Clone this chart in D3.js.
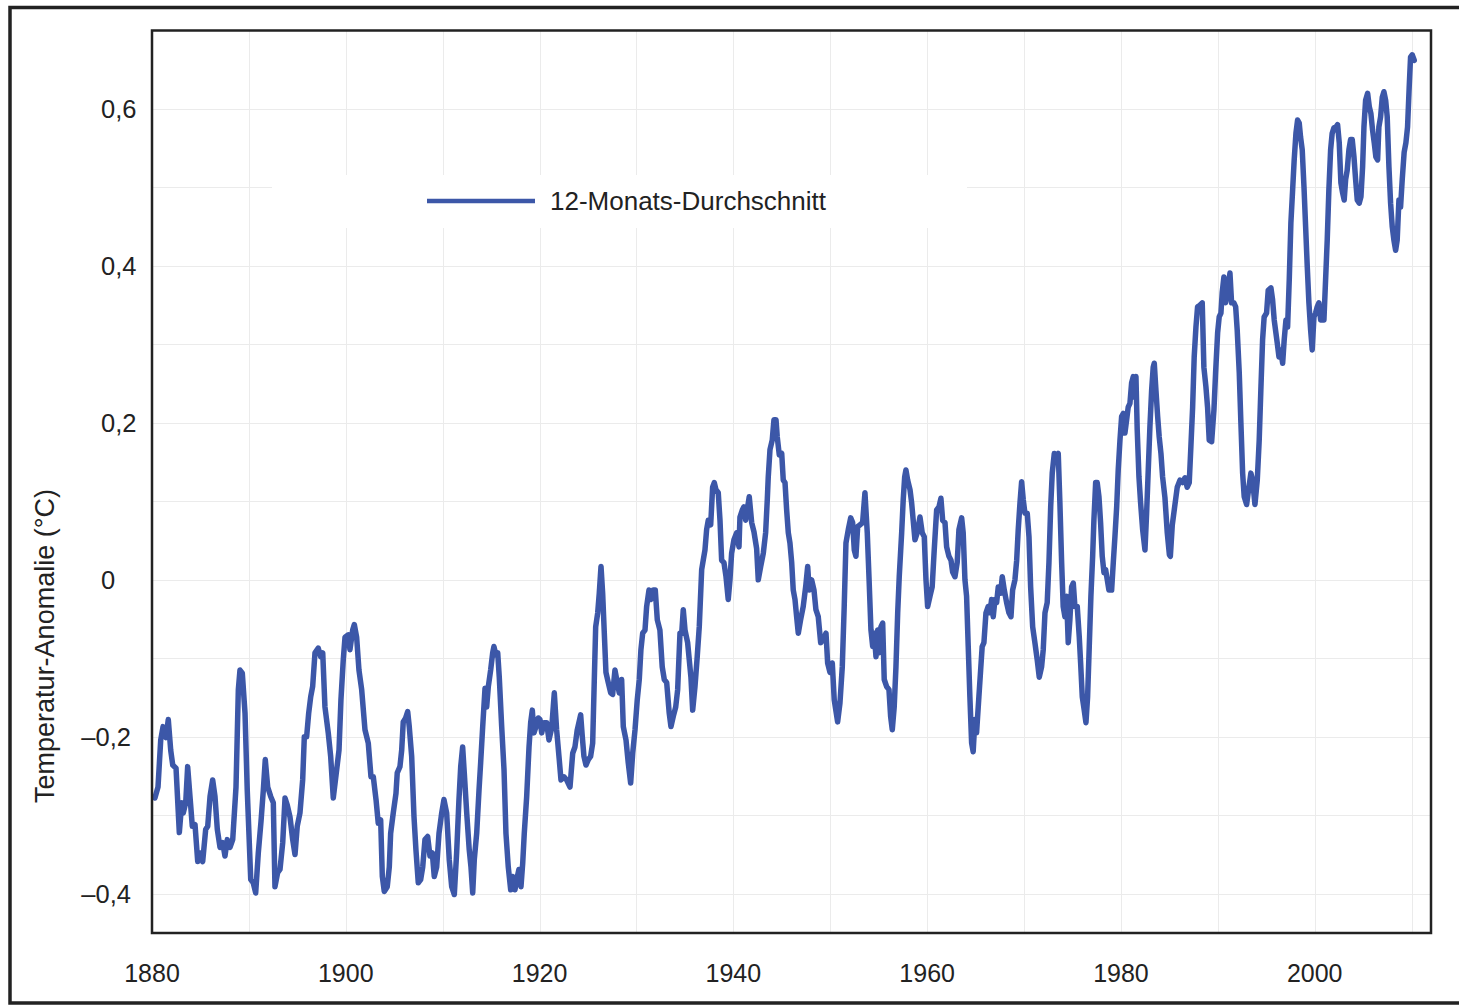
<!DOCTYPE html>
<html>
<head>
<meta charset="utf-8">
<script src="https://cdn.jsdelivr.net/npm/d3@7"></script>
<style>
  body { margin: 0; background: #fff; }
  svg { display: block; }
  text { font-family: 'Liberation Sans', Arial, Helvetica, sans-serif; fill: #222; }
</style>
</head>
<body>
<svg id="chart"></svg>
<script>
'use strict';

let WIDTH = 1459;
let HEIGHT = 1005;
let PLOT = { left: 152, right: 1431, top: 30.5, bottom: 933 };

let COLOR = {
    LINE: '#3C57A8',
    GRID: '#ebebeb',
    FRAME: '#222'
};

// 12-month running mean (year, anomaly in °C)
let YEARS = [
    1880.3, 1880.62, 1880.9, 1881.14, 1881.44, 1881.68, 1881.93, 1882.14, 1882.48, 1882.82,
    1883.07, 1883.23, 1883.48, 1883.68, 1883.92, 1884.16, 1884.44, 1884.72, 1884.95, 1885.23,
    1885.54, 1885.75, 1885.99, 1886.26, 1886.5, 1886.74, 1887.02, 1887.3, 1887.53, 1887.77,
    1888.05, 1888.33, 1888.67, 1888.91, 1889.08, 1889.32, 1889.6, 1889.83, 1890.19, 1890.45,
    1890.7, 1890.97, 1891.25, 1891.49, 1891.69, 1891.94, 1892.25, 1892.52, 1892.69, 1892.97,
    1893.21, 1893.49, 1893.73, 1893.96, 1894.24, 1894.52, 1894.76, 1894.99, 1895.27, 1895.55,
    1895.72, 1895.96, 1896.17, 1896.38, 1896.58, 1896.82, 1897.16, 1897.41, 1897.62, 1897.85,
    1898.19, 1898.44, 1898.71, 1899.06, 1899.3, 1899.5, 1899.74, 1899.92, 1900.26, 1900.43,
    1900.71, 1900.88, 1901.12, 1901.36, 1901.64, 1901.98, 1902.32, 1902.6, 1902.84, 1903.12,
    1903.35, 1903.6, 1903.77, 1903.97, 1904.28, 1904.49, 1904.63, 1904.9, 1905.18, 1905.31,
    1905.59, 1905.77, 1905.93, 1906.18, 1906.39, 1906.55, 1906.8, 1907.04, 1907.24, 1907.48,
    1907.73, 1907.94, 1908.17, 1908.45, 1908.69, 1908.93, 1909.13, 1909.38, 1909.62, 1909.9,
    1910.13, 1910.41, 1910.68, 1910.93, 1911.2, 1911.44, 1911.68, 1911.86, 1912.06, 1912.23,
    1912.48, 1912.74, 1912.92, 1913.1, 1913.26, 1913.51, 1913.75, 1913.92, 1914.13, 1914.37,
    1914.54, 1914.71, 1914.95, 1915.16, 1915.29, 1915.5, 1915.68, 1915.84, 1916.09, 1916.33,
    1916.53, 1916.77, 1917.02, 1917.22, 1917.46, 1917.64, 1917.87, 1918.08, 1918.26, 1918.42,
    1918.67, 1918.91, 1919.08, 1919.25, 1919.42, 1919.63, 1919.87, 1920.04, 1920.22, 1920.45,
    1920.73, 1920.97, 1921.25, 1921.52, 1921.76, 1922.03, 1922.21, 1922.52, 1922.8, 1923.14,
    1923.42, 1923.65, 1923.89, 1924.24, 1924.41, 1924.58, 1924.79, 1925.03, 1925.27, 1925.48,
    1925.64, 1925.79, 1926.0, 1926.16, 1926.34, 1926.51, 1926.68, 1926.85, 1927.09, 1927.34,
    1927.54, 1927.78, 1928.02, 1928.22, 1928.47, 1928.64, 1928.92, 1929.15, 1929.4, 1929.61,
    1929.85, 1930.08, 1930.29, 1930.46, 1930.64, 1930.88, 1931.05, 1931.29, 1931.5, 1931.73,
    1931.94, 1932.15, 1932.42, 1932.66, 1932.87, 1933.12, 1933.38, 1933.56, 1933.8, 1934.05,
    1934.25, 1934.49, 1934.67, 1934.83, 1935.01, 1935.28, 1935.45, 1935.62, 1935.8, 1936.04,
    1936.27, 1936.48, 1936.73, 1936.89, 1937.07, 1937.24, 1937.41, 1937.66, 1937.86, 1938.03,
    1938.2, 1938.44, 1938.62, 1938.79, 1939.03, 1939.24, 1939.47, 1939.65, 1939.82, 1940.06,
    1940.34, 1940.58, 1940.68, 1940.92, 1941.09, 1941.27, 1941.43, 1941.64, 1941.89, 1942.13,
    1942.4, 1942.57, 1942.82, 1943.09, 1943.33, 1943.5, 1943.6, 1943.78, 1944.01, 1944.19,
    1944.4, 1944.53, 1944.74, 1944.99, 1945.15, 1945.33, 1945.5, 1945.67, 1945.84, 1946.02,
    1946.18, 1946.36, 1946.53, 1946.7, 1946.94, 1947.21, 1947.46, 1947.67, 1947.83, 1948.08,
    1948.32, 1948.52, 1948.76, 1949.01, 1949.28, 1949.56, 1949.73, 1949.97, 1950.21, 1950.41,
    1950.76, 1951.0, 1951.24, 1951.44, 1951.62, 1951.86, 1952.11, 1952.31, 1952.48, 1952.65,
    1952.83, 1953.06, 1953.34, 1953.58, 1953.82, 1954.02, 1954.2, 1954.38, 1954.54, 1954.72,
    1954.89, 1955.06, 1955.23, 1955.41, 1955.57, 1955.82, 1956.06, 1956.23, 1956.4, 1956.6,
    1956.78, 1956.96, 1957.12, 1957.37, 1957.53, 1957.68, 1957.81, 1957.99, 1958.23, 1958.4,
    1958.56, 1958.74, 1958.98, 1959.26, 1959.49, 1959.7, 1959.88, 1960.05, 1960.29, 1960.52,
    1960.73, 1960.98, 1961.22, 1961.42, 1961.6, 1961.84, 1962.01, 1962.25, 1962.46, 1962.63,
    1962.87, 1963.1, 1963.28, 1963.56, 1963.72, 1963.9, 1964.07, 1964.24, 1964.41, 1964.59,
    1964.75, 1964.93, 1965.1, 1965.34, 1965.52, 1965.68, 1965.86, 1966.07, 1966.3, 1966.48,
    1966.65, 1966.82, 1967.0, 1967.17, 1967.34, 1967.59, 1967.75, 1967.96, 1968.2, 1968.44,
    1968.65, 1968.82, 1969.06, 1969.24, 1969.4, 1969.58, 1969.75, 1969.92, 1970.09, 1970.33,
    1970.51, 1970.68, 1970.89, 1971.12, 1971.36, 1971.57, 1971.81, 1971.98, 1972.16, 1972.39,
    1972.57, 1972.75, 1972.91, 1973.12, 1973.36, 1973.53, 1973.7, 1973.88, 1974.04, 1974.22,
    1974.39, 1974.56, 1974.73, 1974.91, 1975.08, 1975.25, 1975.49, 1975.7, 1975.84, 1976.01,
    1976.21, 1976.39, 1976.56, 1976.73, 1976.9, 1977.08, 1977.21, 1977.39, 1977.55, 1977.73,
    1977.9, 1978.07, 1978.25, 1978.42, 1978.59, 1978.76, 1979.04, 1979.21, 1979.38, 1979.56,
    1979.72, 1979.9, 1980.07, 1980.24, 1980.41, 1980.59, 1980.75, 1980.93, 1981.1, 1981.27,
    1981.44, 1981.55, 1981.68, 1981.86, 1982.03, 1982.24, 1982.48, 1982.65, 1982.82, 1982.99,
    1983.17, 1983.33, 1983.44, 1983.61, 1983.79, 1983.95, 1984.13, 1984.3, 1984.54, 1984.78,
    1985.0, 1985.1, 1985.3, 1985.81, 1986.09, 1986.37, 1986.61, 1986.84, 1987.05, 1987.22,
    1987.4, 1987.56, 1987.74, 1987.91, 1988.15, 1988.39, 1988.56, 1988.77, 1988.94, 1989.11,
    1989.36, 1989.6, 1989.77, 1989.98, 1990.14, 1990.32, 1990.45, 1990.63, 1990.8, 1990.91,
    1991.07, 1991.25, 1991.42, 1991.66, 1991.84, 1992.0, 1992.21, 1992.38, 1992.56, 1992.72,
    1992.97, 1993.21, 1993.41, 1993.59, 1993.83, 1994.07, 1994.27, 1994.44, 1994.62, 1994.78,
    1995.03, 1995.2, 1995.48, 1995.65, 1995.82, 1995.99, 1996.13, 1996.31, 1996.48, 1996.69,
    1996.85, 1997.03, 1997.2, 1997.37, 1997.54, 1997.72, 1997.88, 1998.06, 1998.23, 1998.4,
    1998.54, 1998.71, 1998.89, 1999.06, 1999.23, 1999.4, 1999.58, 1999.74, 1999.92, 2000.09,
    2000.26, 2000.43, 2000.61, 2000.81, 2000.95, 2001.12, 2001.29, 2001.46, 2001.64, 2001.8,
    2001.98, 2002.19, 2002.36, 2002.53, 2002.7, 2002.88, 2003.04, 2003.19, 2003.35, 2003.53,
    2003.7, 2003.87, 2004.05, 2004.22, 2004.39, 2004.59, 2004.77, 2004.94, 2005.08, 2005.25,
    2005.46, 2005.63, 2005.8, 2005.97, 2006.14, 2006.31, 2006.49, 2006.62, 2006.8, 2006.97,
    2007.14, 2007.32, 2007.48, 2007.66, 2007.83, 2008.0, 2008.17, 2008.35, 2008.51, 2008.69,
    2008.86, 2009.03, 2009.23, 2009.41, 2009.58, 2009.75, 2009.89, 2010.06, 2010.27
];
let ANOMALY = [
    -0.278, -0.264, -0.204, -0.187, -0.201, -0.178, -0.217, -0.236, -0.24, -0.322,
    -0.284, -0.297, -0.284, -0.238, -0.276, -0.314, -0.312, -0.359, -0.348, -0.359,
    -0.318, -0.314, -0.276, -0.255, -0.276, -0.318, -0.341, -0.335, -0.352, -0.331,
    -0.341, -0.331, -0.264, -0.14, -0.115, -0.119, -0.17, -0.268, -0.382, -0.386,
    -0.399, -0.348, -0.308, -0.268, -0.229, -0.264, -0.276, -0.284, -0.391, -0.373,
    -0.369, -0.335, -0.278, -0.287, -0.302, -0.331, -0.35, -0.314, -0.297, -0.255,
    -0.2, -0.2, -0.17, -0.149, -0.136, -0.093, -0.087, -0.098, -0.093, -0.162,
    -0.195, -0.225, -0.278, -0.242, -0.217, -0.153, -0.102, -0.073, -0.07, -0.089,
    -0.064, -0.057, -0.073, -0.115, -0.14, -0.191, -0.208, -0.251, -0.251, -0.28,
    -0.31, -0.306, -0.378, -0.397, -0.391, -0.366, -0.323, -0.297, -0.272, -0.246,
    -0.238, -0.217, -0.181, -0.176, -0.168, -0.187, -0.225, -0.302, -0.344, -0.386,
    -0.382, -0.366, -0.331, -0.327, -0.352, -0.348, -0.378, -0.366, -0.323, -0.297,
    -0.28, -0.297, -0.357, -0.391, -0.401, -0.348, -0.28, -0.238, -0.213, -0.246,
    -0.297, -0.344, -0.366, -0.399, -0.357, -0.323, -0.268, -0.233, -0.187, -0.138,
    -0.162, -0.136, -0.115, -0.093, -0.085, -0.096, -0.093, -0.124, -0.187, -0.242,
    -0.323, -0.366, -0.395, -0.378, -0.395, -0.382, -0.369, -0.391, -0.361, -0.323,
    -0.276, -0.213, -0.182, -0.166, -0.195, -0.187, -0.176, -0.178, -0.195, -0.182,
    -0.182, -0.204, -0.189, -0.144, -0.191, -0.229, -0.255, -0.251, -0.255, -0.264,
    -0.221, -0.213, -0.191, -0.172, -0.2, -0.225, -0.236, -0.229, -0.225, -0.208,
    -0.131, -0.06, -0.042, -0.017, 0.017, -0.017, -0.068, -0.118, -0.131, -0.144,
    -0.146, -0.115, -0.131, -0.144, -0.127, -0.187, -0.204, -0.233, -0.259, -0.221,
    -0.191, -0.153, -0.127, -0.089, -0.068, -0.064, -0.034, -0.013, -0.025, -0.013,
    -0.013, -0.051, -0.064, -0.111, -0.127, -0.131, -0.17, -0.187, -0.174, -0.162,
    -0.14, -0.068, -0.068, -0.038, -0.064, -0.08, -0.102, -0.124, -0.166, -0.136,
    -0.098, -0.06, 0.013, 0.025, 0.038, 0.064, 0.076, 0.07, 0.118, 0.124,
    0.115, 0.111, 0.076, 0.025, 0.022, 0.004, -0.025, 0.0, 0.034, 0.051,
    0.06, 0.042, 0.08, 0.089, 0.093, 0.076, 0.089, 0.106, 0.073, 0.061,
    0.04, 0.0, 0.017, 0.034, 0.06, 0.102, 0.131, 0.166, 0.178, 0.204,
    0.204, 0.182, 0.159, 0.161, 0.127, 0.124, 0.089, 0.06, 0.047, 0.022,
    -0.013, -0.025, -0.047, -0.068, -0.051, -0.034, -0.009, 0.017, -0.013, 0.0,
    -0.013, -0.038, -0.047, -0.08, -0.076, -0.068, -0.106, -0.118, -0.106, -0.153,
    -0.181, -0.157, -0.111, -0.034, 0.047, 0.064, 0.079, 0.073, 0.038, 0.03,
    0.068, 0.07, 0.073, 0.111, 0.06, -0.004, -0.064, -0.085, -0.068, -0.098,
    -0.064, -0.093, -0.06, -0.055, -0.127, -0.136, -0.14, -0.174, -0.191, -0.162,
    -0.111, -0.042, 0.004, 0.06, 0.102, 0.131, 0.14, 0.127, 0.115, 0.098,
    0.076, 0.051, 0.06, 0.08, 0.06, 0.055, 0.0, -0.034, -0.021, -0.009,
    0.038, 0.089, 0.093, 0.104, 0.076, 0.073, 0.042, 0.03, 0.025, 0.01,
    0.004, 0.022, 0.064, 0.079, 0.06, 0.0, -0.021, -0.085, -0.149, -0.208,
    -0.219, -0.178, -0.195, -0.149, -0.115, -0.085, -0.08, -0.042, -0.034, -0.042,
    -0.025, -0.047, -0.025, -0.029, -0.009, -0.017, 0.004, -0.013, -0.029, -0.042,
    -0.047, -0.013, 0.0, 0.025, 0.064, 0.098, 0.125, 0.102, 0.085, 0.085,
    0.055, -0.009, -0.06, -0.08, -0.102, -0.124, -0.111, -0.089, -0.042, -0.029,
    0.022, 0.093, 0.136, 0.161, 0.157, 0.161, 0.098, 0.022, -0.034, -0.047,
    -0.021, -0.08, -0.051, -0.009, -0.004, -0.034, -0.034, -0.073, -0.106, -0.149,
    -0.166, -0.182, -0.149, -0.085, -0.021, 0.03, 0.076, 0.124, 0.124, 0.106,
    0.073, 0.03, 0.009, 0.013, 0.0, -0.013, -0.013, 0.022, 0.055, 0.093,
    0.14, 0.178, 0.208, 0.212, 0.187, 0.204, 0.22, 0.225, 0.251, 0.259,
    0.233, 0.259, 0.191, 0.131, 0.098, 0.064, 0.038, 0.085, 0.14, 0.195,
    0.242, 0.271, 0.276, 0.242, 0.208, 0.182, 0.161, 0.131, 0.105, 0.06,
    0.032, 0.03, 0.07, 0.118, 0.127, 0.124, 0.13, 0.118, 0.124, 0.17,
    0.22, 0.284, 0.322, 0.348, 0.35, 0.353, 0.271, 0.246, 0.22, 0.178,
    0.176, 0.217, 0.264, 0.315, 0.335, 0.34, 0.366, 0.386, 0.353, 0.36,
    0.373, 0.391, 0.353, 0.353, 0.348, 0.318, 0.264, 0.2, 0.136, 0.106,
    0.096, 0.118, 0.136, 0.127, 0.096, 0.127, 0.178, 0.242, 0.306, 0.335,
    0.34, 0.369, 0.372, 0.357, 0.331, 0.315, 0.302, 0.284, 0.293, 0.276,
    0.306, 0.331, 0.322, 0.382, 0.455, 0.497, 0.535, 0.569, 0.586, 0.582,
    0.564, 0.548, 0.501, 0.45, 0.399, 0.353, 0.318, 0.293, 0.335, 0.34,
    0.348, 0.353, 0.331, 0.348, 0.331, 0.382, 0.433, 0.497, 0.548, 0.569,
    0.576, 0.577, 0.58, 0.557, 0.506, 0.493, 0.484, 0.51, 0.522, 0.548,
    0.561, 0.561, 0.539, 0.51, 0.484, 0.48, 0.488, 0.526, 0.577, 0.611,
    0.62, 0.603, 0.594, 0.573, 0.557, 0.539, 0.535, 0.577, 0.59, 0.615,
    0.622, 0.611, 0.59, 0.526, 0.48, 0.45, 0.433, 0.42, 0.433, 0.484,
    0.475, 0.51, 0.545, 0.557, 0.577, 0.628, 0.666, 0.669, 0.662
];

let X_DOMAIN = [1880, 2012];
let Y_DOMAIN = [-0.45, 0.7];
let X_TICKS = [1880, 1900, 1920, 1940, 1960, 1980, 2000];
let Y_TICKS = [-0.4, -0.2, 0, 0.2, 0.4, 0.6];
let SERIES_LABEL = '12-Monats-Durchschnitt';
let Y_TITLE = 'Temperatur-Anomalie (°C)';

let svg = d3.select('#chart').attr('width', WIDTH).attr('height', HEIGHT);

let x = d3.scaleLinear().domain(X_DOMAIN).range([PLOT.left, PLOT.right]);
let y = d3.scaleLinear().domain(Y_DOMAIN).range([PLOT.bottom, PLOT.top]);

// german number format: decimal comma, en dash as minus
let de = d3.formatLocale({ decimal: ',', thousands: '.', grouping: [3], currency: ['', ' €'], minus: '\u2013' });
let fmt = de.format('.1~f');

let data = YEARS.map(function(yr, i) { return [yr, ANOMALY[i]]; });

// grid
let grid = svg.append('g').attr('stroke', COLOR.GRID).attr('stroke-width', 1);
grid.selectAll('line.v')
    .data(x.ticks(13).filter(function(d) { return d > X_DOMAIN[0]; }))
    .enter()
    .append('line')
    .attr('class', 'v')
    .attr('x1', function(d) { return Math.round(x(d)) + 0.5; })
    .attr('x2', function(d) { return Math.round(x(d)) + 0.5; })
    .attr('y1', PLOT.top)
    .attr('y2', PLOT.bottom);
grid.selectAll('line.h')
    .data(y.ticks(12).filter(function(d) { return d < Y_DOMAIN[1] - 1e-6; }))
    .enter()
    .append('line')
    .attr('class', 'h')
    .attr('x1', PLOT.left)
    .attr('x2', PLOT.right)
    .attr('y1', function(d) { return Math.round(y(d)) + 0.5; })
    .attr('y2', function(d) { return Math.round(y(d)) + 0.5; });

// legend background knocks out the grid
svg.append('rect')
    .attr('x', 272).attr('y', 175)
    .attr('width', 695).attr('height', 53)
    .attr('fill', '#fff');

// the series
svg.append('path')
    .datum(data)
    .attr('fill', 'none')
    .attr('stroke', COLOR.LINE)
    .attr('stroke-width', 5.5)
    .attr('stroke-linejoin', 'round')
    .attr('stroke-linecap', 'round')
    .attr('d', d3.line().x(function(d) { return x(d[0]); }).y(function(d) { return y(d[1]); }));

// plot frame
svg.append('rect')
    .attr('x', PLOT.left).attr('y', PLOT.top)
    .attr('width', PLOT.right - PLOT.left).attr('height', PLOT.bottom - PLOT.top)
    .attr('fill', 'none')
    .attr('stroke', COLOR.FRAME)
    .attr('stroke-width', 2.5);

// outer frame (open at the right)
svg.append('path')
    .attr('d', 'M1470,7.5H10V1003H1470')
    .attr('fill', 'none')
    .attr('stroke', COLOR.FRAME)
    .attr('stroke-width', 3.5);

// tick labels
svg.append('g').selectAll('text')
    .data(X_TICKS)
    .enter()
    .append('text')
    .attr('x', function(d) { return x(d); })
    .attr('y', 982)
    .attr('text-anchor', 'middle')
    .attr('font-size', 25)
    .text(function(d) { return d; });

// positive labels line up on their left edge, negatives hang out to the left
svg.append('g').selectAll('text')
    .data(Y_TICKS)
    .enter()
    .append('text')
    .attr('x', function(d) { return d < 0 ? 131 : 101; })
    .attr('y', function(d) { return y(d); })
    .attr('dy', '0.36em')
    .attr('text-anchor', function(d) { return d < 0 ? 'end' : 'start'; })
    .attr('font-size', 25.5)
    .text(function(d) { return fmt(d); });

// axis title
svg.append('text')
    .attr('transform', 'translate(54,646) rotate(-90)')
    .attr('text-anchor', 'middle')
    .attr('font-size', 27)
    .text(Y_TITLE);

// legend
svg.append('line')
    .attr('x1', 427).attr('x2', 535)
    .attr('y1', 201).attr('y2', 201)
    .attr('stroke', COLOR.LINE)
    .attr('stroke-width', 4.5);
svg.append('text')
    .attr('x', 550).attr('y', 210)
    .attr('font-size', 26)
    .text(SERIES_LABEL);
</script>
</body>
</html>
